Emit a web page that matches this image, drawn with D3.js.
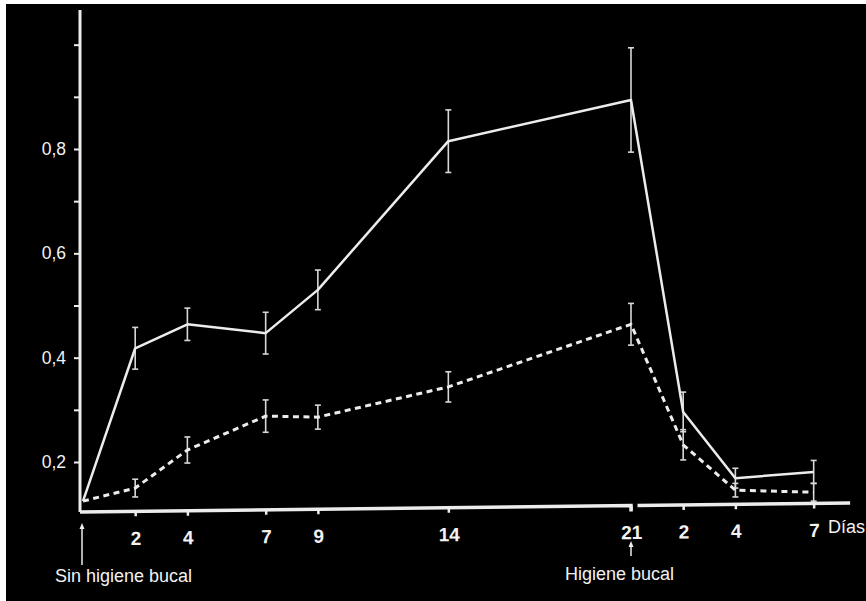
<!DOCTYPE html>
<html>
<head>
<meta charset="utf-8">
<script src="https://cdn.jsdelivr.net/npm/d3@7"></script>
<style>
    body { margin: 0; background: #fff; }
    text { font-family: Arial, "Liberation Sans", sans-serif; fill: #f2f2f2; }
</style>
</head>
<body>
<div class="container"></div>
<script>
// days since start (second period continues after day 21)
var days = [0, 2, 4, 7, 9, 14, 21, 23, 25, 28];
var solidValues = [0.125, 0.418, 0.464, 0.447, 0.53, 0.815, 0.894, 0.296, 0.169, 0.181];
var solidErrors = [0, 0.04, 0.031, 0.04, 0.038, 0.06, 0.1, 0.038, 0.019, 0.022];
var dashedValues = [0.125, 0.15, 0.223, 0.288, 0.286, 0.344, 0.464, 0.233, 0.146, 0.142];
var dashedErrors = [0, 0.017, 0.025, 0.031, 0.023, 0.029, 0.04, 0.029, 0.013, 0.017];

var xTickDays = [2, 4, 7, 9, 14, 21, 23, 25, 28];
var xTickLabels = ['2', '4', '7', '9', '14', '21', '2', '4', '7'];
var yTickValues = [0.2, 0.3, 0.4, 0.5, 0.6, 0.7, 0.8, 0.9, 1.0];
var yLabelValues = [0.2, 0.4, 0.6, 0.8];

const WIDTH = 866;
const HEIGHT = 601;
const AXIS_Y = 512;
const INK = '#ececec';

var _x = d3.scaleLinear().domain([0, 21]).range([83, 631]);
var _y = d3.scaleLinear().domain([0.2, 0.8]).range([462, 149]);

var svg = d3.select('.container').append('svg')
    .attr('width', WIDTH)
    .attr('height', HEIGHT);

svg.append('rect').attr('width', WIDTH).attr('height', HEIGHT).attr('fill', '#fff');
svg.append('rect').attr('x', 6).attr('y', 4)
    .attr('width', WIDTH - 6).attr('height', HEIGHT - 4).attr('fill', '#000');

// y axis
var yAxis = d3.axisLeft(_y)
    .tickValues(yTickValues)
    .tickSize(6)
    .tickPadding(8)
    .tickFormat(function (d) {
        return yLabelValues.some(function (v) { return Math.abs(v - d) < 1e-9; })
            ? d3.format('.1f')(d).replace('.', ',') : '';
    });

var gy = svg.append('g').attr('transform', 'translate(80,0)').call(yAxis);
gy.select('.domain').remove();
gy.selectAll('line').attr('stroke', INK).attr('stroke-width', 2);
gy.selectAll('text').attr('font-size', 17.5).attr('fill', '#f2f2f2');
gy.append('line')
    .attr('x1', 0).attr('x2', 0)
    .attr('y1', 10).attr('y2', AXIS_Y)
    .attr('stroke', INK).attr('stroke-width', 3);

// x axis (slightly tilted, broken after day 21)
var xAxis = d3.axisBottom(_x)
    .tickValues(xTickDays)
    .tickSize(5)
    .tickPadding(15)
    .tickFormat(function (d, i) { return xTickLabels[i]; });

var gx = svg.append('g')
    .attr('transform', 'translate(0,' + AXIS_Y + ') rotate(-0.67,80,0)')
    .call(xAxis);
gx.select('.domain').remove();
gx.selectAll('line').attr('stroke', INK).attr('stroke-width', 2.5);
gx.selectAll('text').attr('font-size', 19).attr('font-weight', 'bold').attr('fill', '#f2f2f2');
gx.append('path')
    .attr('d', 'M80,0H' + _x(21) + 'v6')
    .attr('fill', 'none').attr('stroke', INK).attr('stroke-width', 3.5);
gx.append('line')
    .attr('x1', _x(21.25)).attr('x2', _x(29.4))
    .attr('y1', 0).attr('y2', 0)
    .attr('stroke', INK).attr('stroke-width', 3.5);

// series
var solidPoints = days.map(function (d, i) { return {day: d, v: solidValues[i], e: solidErrors[i]}; });
var dashedPoints = days.map(function (d, i) { return {day: d, v: dashedValues[i], e: dashedErrors[i]}; });

var line = d3.line()
    .x(function (d) { return _x(d.day); })
    .y(function (d) { return _y(d.v); });

var drawErrorBars = function (points) {
    var g = svg.append('g')
        .selectAll('g')
        .data(points.filter(function (d) { return d.e > 0; }))
        .enter().append('g')
        .attr('stroke', '#d8d8d8')
        .attr('stroke-width', 1.6);
    g.append('line')
        .attr('x1', function (d) { return _x(d.day); })
        .attr('x2', function (d) { return _x(d.day); })
        .attr('y1', function (d) { return _y(d.v + d.e); })
        .attr('y2', function (d) { return _y(d.v - d.e); });
    [1, -1].forEach(function (s) {
        g.append('line')
            .attr('x1', function (d) { return _x(d.day) - 3; })
            .attr('x2', function (d) { return _x(d.day) + 3; })
            .attr('y1', function (d) { return _y(d.v + s * d.e); })
            .attr('y2', function (d) { return _y(d.v + s * d.e); });
    });
};

drawErrorBars(dashedPoints);
drawErrorBars(solidPoints);

svg.append('path')
    .datum(dashedPoints)
    .attr('d', line)
    .attr('fill', 'none')
    .attr('stroke', INK)
    .attr('stroke-width', 3)
    .attr('stroke-dasharray', '6,4.5');

svg.append('path')
    .datum(solidPoints)
    .attr('d', line)
    .attr('fill', 'none')
    .attr('stroke', INK)
    .attr('stroke-width', 2.5)
    .attr('stroke-linejoin', 'round');

// annotations
var arrow = function (x, y1, y2) {
    svg.append('line')
        .attr('x1', x).attr('x2', x).attr('y1', y1 + 3).attr('y2', y2)
        .attr('stroke', INK).attr('stroke-width', 1.5);
    svg.append('path')
        .attr('d', 'M' + x + ',' + y1 + 'l-2.5,6h5z')
        .attr('fill', INK);
};
arrow(82, 523, 565);
arrow(_x(21), 541, 556);

svg.append('text').attr('x', 55).attr('y', 582).attr('font-size', 18).text('Sin higiene bucal');
svg.append('text').attr('x', 565).attr('y', 580).attr('font-size', 18).text('Higiene bucal');
svg.append('text').attr('x', 828).attr('y', 533).attr('font-size', 18).text('Días');
</script>
</body>
</html>
